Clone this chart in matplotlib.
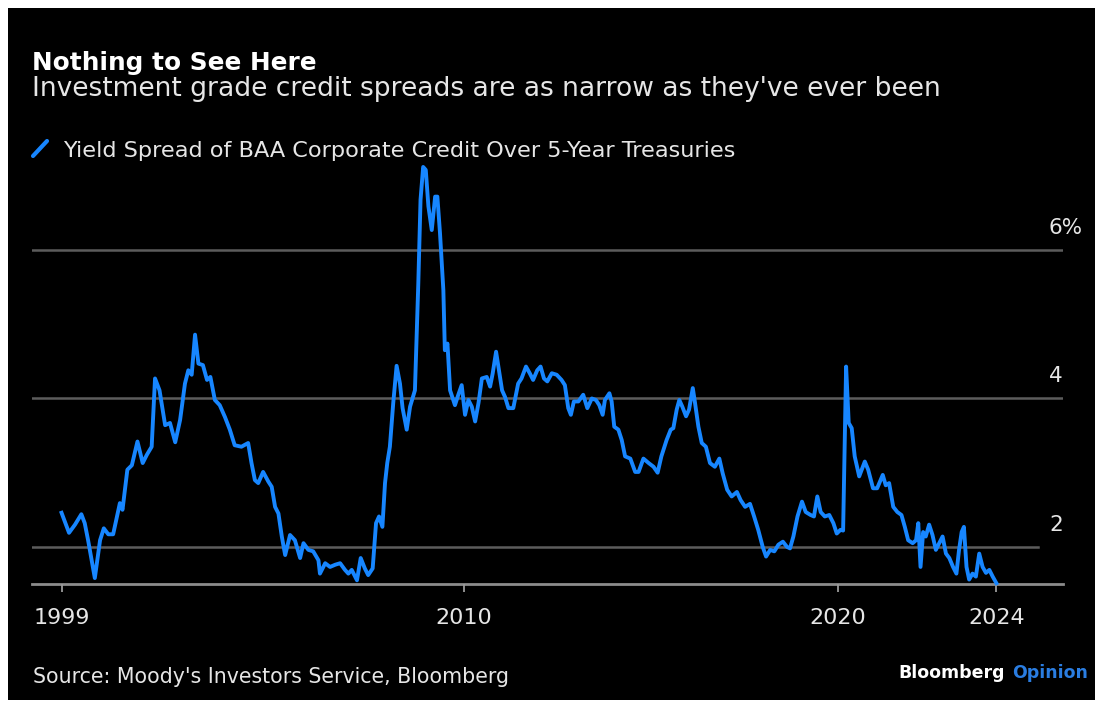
import matplotlib
matplotlib.use("Agg")
import matplotlib.pyplot as plt
from matplotlib.patches import Rectangle
from matplotlib.lines import Line2D
from matplotlib.transforms import blended_transform_factory

# --- Data (BAA corporate yield minus 5-year Treasury, %) ---
dates = [
    1999.24, 1999.44, 1999.60, 1999.77, 1999.86, 1999.95, 2000.13, 2000.27, 2000.37, 2000.49,
    2000.62, 2000.80, 2000.87, 2001.00, 2001.12, 2001.27, 2001.41, 2001.52, 2001.65, 2001.74,
    2001.86, 2002.01, 2002.14, 2002.28, 2002.41, 2002.54, 2002.63, 2002.72, 2002.81, 2002.90,
    2003.02, 2003.13, 2003.22, 2003.34, 2003.47, 2003.61, 2003.74, 2003.87, 2004.05, 2004.23,
    2004.32, 2004.41, 2004.50, 2004.63, 2004.77, 2004.86, 2004.95, 2005.04, 2005.13, 2005.22,
    2005.35, 2005.48, 2005.62, 2005.71, 2005.84, 2005.97, 2006.11, 2006.15, 2006.29, 2006.42,
    2006.56, 2006.69, 2006.82, 2006.91, 2007.00, 2007.14, 2007.24, 2007.35, 2007.44, 2007.56,
    2007.65, 2007.73, 2007.82, 2007.89, 2007.95, 2008.02, 2008.11, 2008.20, 2008.29, 2008.36,
    2008.47, 2008.56, 2008.69, 2008.78, 2008.84, 2008.91, 2008.98, 2009.05, 2009.14, 2009.23,
    2009.29, 2009.36, 2009.45, 2009.49, 2009.56, 2009.63, 2009.76, 2009.85, 2009.94, 2010.03,
    2010.12, 2010.21, 2010.30, 2010.39, 2010.48, 2010.61, 2010.70, 2010.77, 2010.86, 2010.95,
    2011.02, 2011.10, 2011.19, 2011.32, 2011.45, 2011.54, 2011.66, 2011.76, 2011.85, 2011.96,
    2012.05, 2012.14, 2012.23, 2012.35, 2012.48, 2012.61, 2012.70, 2012.79, 2012.86, 2012.94,
    2013.06, 2013.19, 2013.30, 2013.42, 2013.53, 2013.62, 2013.71, 2013.77, 2013.89, 2013.95,
    2014.02, 2014.13, 2014.22, 2014.31, 2014.45, 2014.58, 2014.67, 2014.80, 2014.94, 2015.07,
    2015.18, 2015.28, 2015.42, 2015.53, 2015.60, 2015.69, 2015.76, 2015.84, 2015.94, 2016.02,
    2016.12, 2016.18, 2016.27, 2016.36, 2016.47, 2016.58, 2016.71, 2016.83, 2016.92, 2017.04,
    2017.16, 2017.30, 2017.40, 2017.52, 2017.65, 2017.76, 2017.87, 2017.99, 2018.08, 2018.19,
    2018.30, 2018.41, 2018.53, 2018.64, 2018.72, 2018.81, 2018.92, 2019.04, 2019.14, 2019.27,
    2019.36, 2019.45, 2019.54, 2019.65, 2019.77, 2019.88, 2019.97, 2020.07, 2020.14, 2020.22,
    2020.29, 2020.37, 2020.45, 2020.57, 2020.72, 2020.81, 2020.94, 2021.05, 2021.20, 2021.28,
    2021.37, 2021.48, 2021.59, 2021.70, 2021.79, 2021.88, 2022.00, 2022.09, 2022.15, 2022.21,
    2022.28, 2022.35, 2022.44, 2022.53, 2022.62, 2022.71, 2022.80, 2022.89, 2022.98, 2023.08,
    2023.17, 2023.24, 2023.31, 2023.37, 2023.44, 2023.51, 2023.60, 2023.69, 2023.78, 2023.87,
    2023.96, 2024.05, 2024.14, 2024.24,
]
spread = [
    2.46, 2.19, 2.30, 2.44, 2.32, 2.09, 1.58, 2.09, 2.25, 2.17,
    2.17, 2.59, 2.50, 3.04, 3.10, 3.42, 3.13, 3.24, 3.35, 4.27,
    4.11, 3.64, 3.67, 3.41, 3.71, 4.20, 4.38, 4.32, 4.86, 4.47,
    4.45, 4.25, 4.29, 3.98, 3.91, 3.75, 3.58, 3.37, 3.35, 3.40,
    3.13, 2.90, 2.86, 3.01, 2.88, 2.81, 2.54, 2.45, 2.14, 1.89,
    2.16, 2.09, 1.85, 2.05, 1.96, 1.94, 1.82, 1.64, 1.78, 1.73,
    1.76, 1.78, 1.69, 1.64, 1.69, 1.55, 1.85, 1.71, 1.62, 1.71,
    2.32, 2.41, 2.27, 2.86, 3.13, 3.35, 3.94, 4.44, 4.20, 3.87,
    3.58, 3.89, 4.11, 5.55, 6.68, 7.12, 7.08, 6.59, 6.27, 6.72,
    6.72, 6.23, 5.46, 4.65, 4.74, 4.11, 3.91, 4.05, 4.18, 3.78,
    3.98, 3.89, 3.69, 3.94, 4.27, 4.29, 4.16, 4.34, 4.63, 4.34,
    4.11, 4.02, 3.87, 3.87, 4.20, 4.27, 4.43, 4.34, 4.25, 4.38,
    4.43, 4.27, 4.23, 4.34, 4.32, 4.25, 4.18, 3.87, 3.78, 3.96,
    3.96, 4.05, 3.87, 4.00, 3.98, 3.91, 3.78, 3.98, 4.07, 3.96,
    3.62, 3.58, 3.44, 3.22, 3.19, 3.01, 3.01, 3.19, 3.13, 3.08,
    3.00, 3.22, 3.44, 3.58, 3.60, 3.85, 3.98, 3.89, 3.76, 3.85,
    4.14, 3.94, 3.62, 3.40, 3.35, 3.13, 3.08, 3.19, 2.99, 2.77,
    2.68, 2.74, 2.63, 2.54, 2.58, 2.41, 2.23, 2.00, 1.87, 1.96,
    1.94, 2.03, 2.07, 2.00, 1.98, 2.14, 2.41, 2.61, 2.47, 2.43,
    2.41, 2.68, 2.47, 2.41, 2.43, 2.32, 2.18, 2.23, 2.22, 4.43,
    3.67, 3.60, 3.22, 2.95, 3.15, 3.04, 2.79, 2.79, 2.97, 2.83,
    2.86, 2.54, 2.47, 2.43, 2.27, 2.09, 2.05, 2.09, 2.32, 1.73,
    2.20, 2.14, 2.30, 2.16, 1.96, 2.05, 2.14, 1.91, 1.85, 1.73,
    1.64, 1.96, 2.20, 2.27, 1.73, 1.56, 1.64, 1.60, 1.91, 1.73,
    1.65, 1.69, 1.60, 1.51,
]

YTICKS = [2, 4, 6]
YTICK_LABELS = ["2", "4", "6%"]
XTICK_LABELS = ["1999", "2010", "2020", "2024"]

TITLE = "Nothing to See Here"
SUBTITLE = "Investment grade credit spreads are as narrow as they've ever been"
LEGEND = "Yield Spread of BAA Corporate Credit Over 5-Year Treasuries"
SOURCE = "Source: Moody's Investors Service, Bloomberg"

LINE_BLUE = "#1786ff"
GRID = "#5c5c5c"
TEXT = "#e6e6e6"

W, H = 1101, 706


def fx(px):
    return px / W


def fy(py):
    return 1 - py / H


fig = plt.figure(figsize=(W / 100, H / 100), dpi=100, facecolor="white")

# black panel with a thin white margin, like the screenshot
fig.patches.append(Rectangle((fx(8), fy(700)), fx(1095) - fx(8), fy(8) - fy(700),
                             transform=fig.transFigure, facecolor="black",
                             edgecolor="none", zorder=-5))

ax = fig.add_axes([fx(32), fy(584), fx(1063) - fx(32), fy(153.6) - fy(584)])
ax.set_facecolor("none")
ax.set_xlim(1998.45, 2026.02)
ax.set_ylim(1.5, 7.3)

# horizontal grid lines (the 2% one stops a bit earlier)
for v in YTICKS:
    xmax = 0.976 if v == 2 else 1.0
    ax.axhline(v, xmin=0, xmax=xmax, color=GRID, lw=1.8, zorder=1)
ax.axhline(1.5, color="#8c8c8c", lw=2.0, zorder=1, clip_on=False)

ax.plot(dates, spread, color=LINE_BLUE, lw=2.8, solid_joinstyle="round",
        zorder=3, clip_on=False)

for s in ax.spines.values():
    s.set_visible(False)
ax.set_yticks([])
ax.set_xticks([dates[0], 2010, 2020, dates[-1]], XTICK_LABELS)
ax.tick_params(axis="x", length=6, width=1.3, color="#9a9a9a",
               labelcolor=TEXT, labelsize=16, pad=11)

# y labels sit above the grid lines, on the right
trans = blended_transform_factory(ax.transAxes, ax.transData)
for v, lab in zip(YTICKS, YTICK_LABELS):
    ax.text(0.9864, v + 0.30, lab, transform=trans, ha="left", va="center",
            fontsize=15.5, color=TEXT)

# titles and legend
fig.text(fx(32), fy(70), TITLE, fontsize=17.8, fontweight="bold", color="white",
         va="baseline")
fig.text(fx(32), fy(96), SUBTITLE, fontsize=19.1, color=TEXT, va="baseline")
fig.add_artist(Line2D([fx(33), fx(47)], [fy(156), fy(141)], transform=fig.transFigure,
                      color=LINE_BLUE, lw=3, solid_capstyle="round", zorder=5))
fig.text(fx(63), fy(157), LEGEND, fontsize=16.1, color=TEXT, va="baseline")

# footer
fig.text(fx(33), fy(683), SOURCE, fontsize=14.8, color=TEXT, va="baseline")
fig.text(fx(1005), fy(678), "Bloomberg", fontsize=12.5, fontweight="bold",
         color="white", ha="right", va="baseline")
fig.text(fx(1012), fy(678), "Opinion", fontsize=12.5, fontweight="bold",
         color="#2a7de1", ha="left", va="baseline")

fig.savefig("out.png", dpi=100, facecolor=fig.get_facecolor())
